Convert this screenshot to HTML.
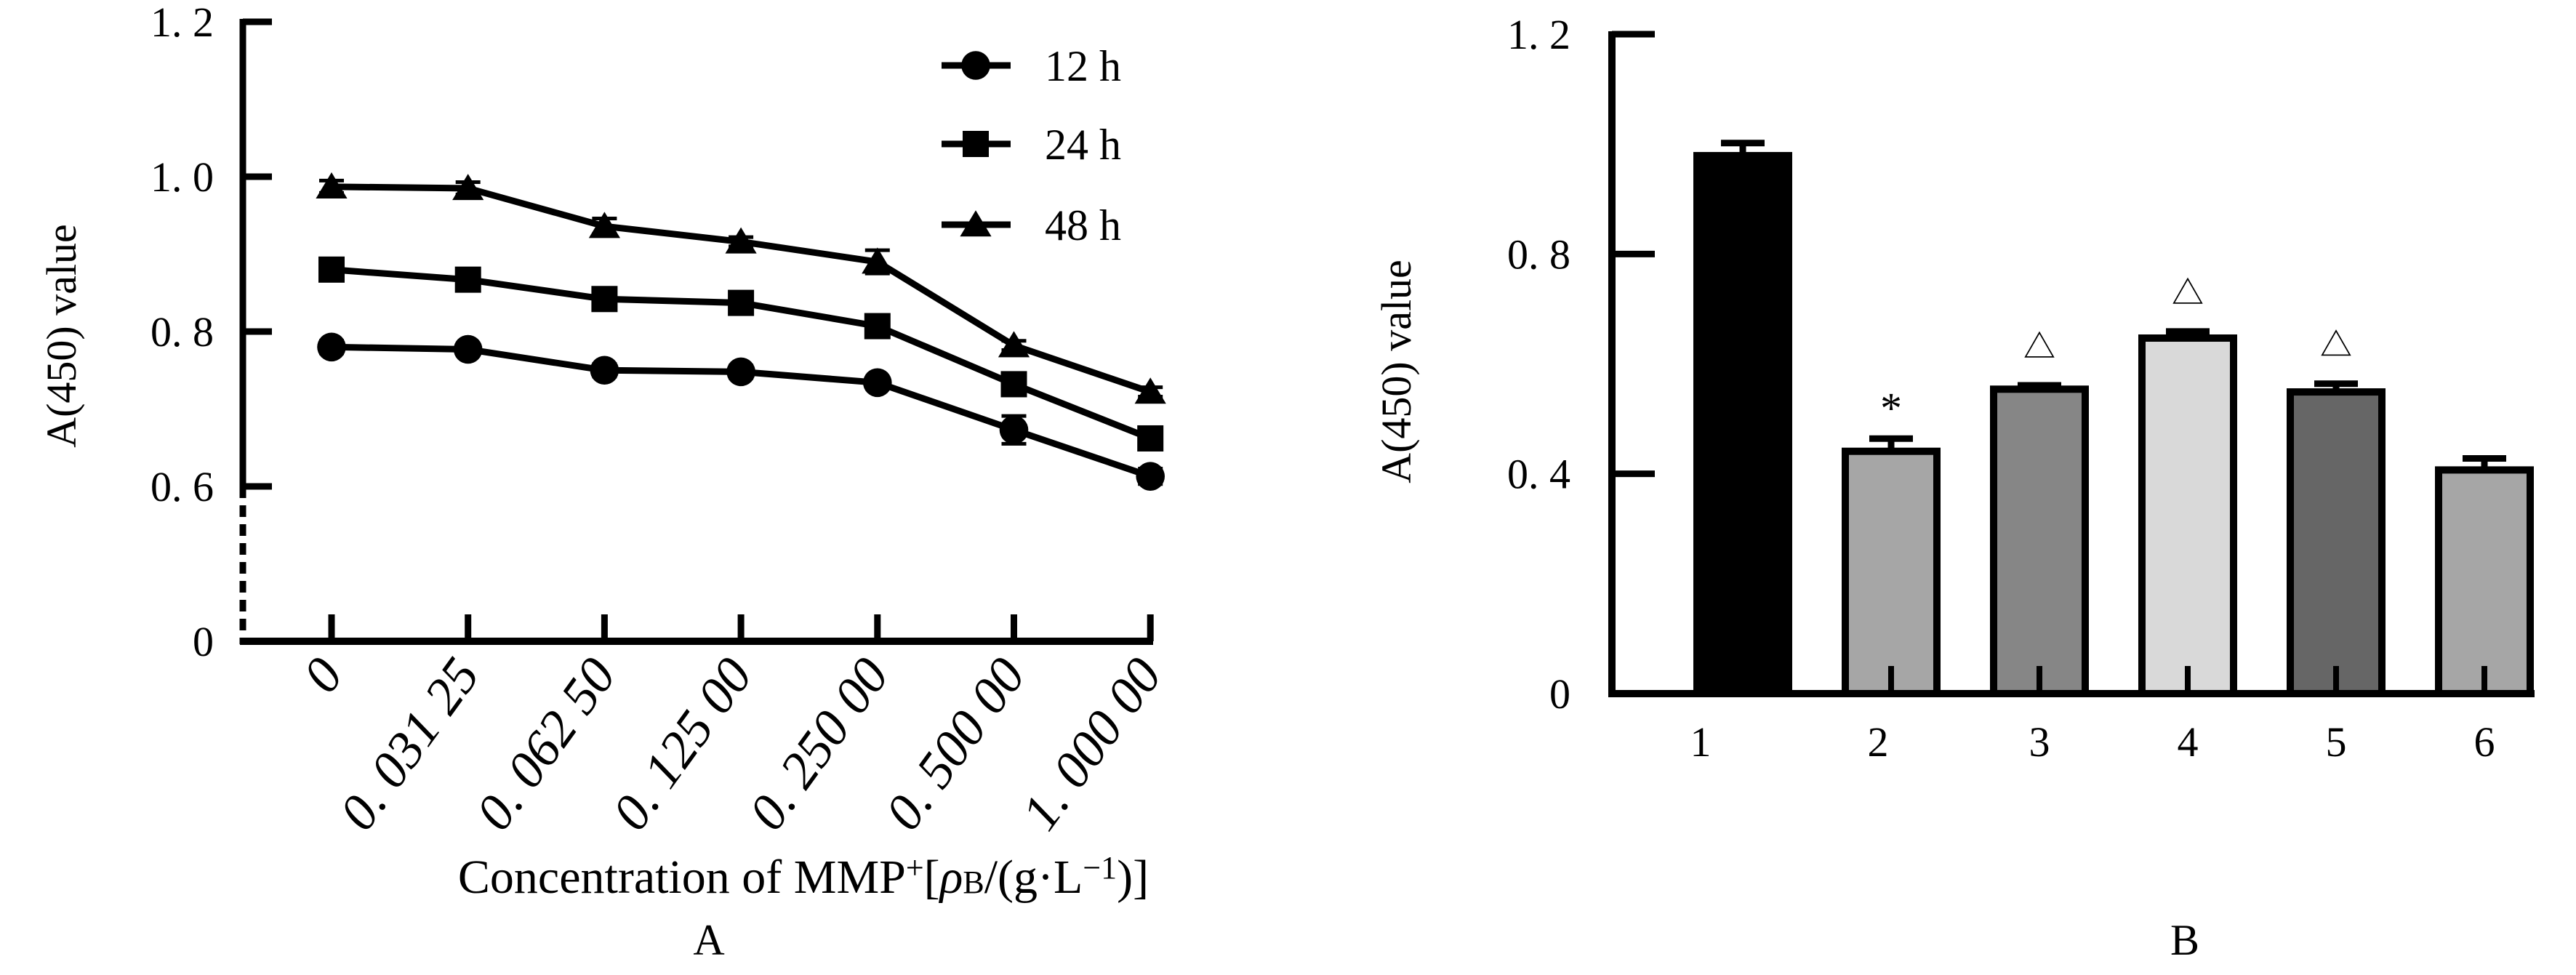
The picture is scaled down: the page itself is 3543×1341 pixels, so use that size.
<!DOCTYPE html>
<html><head><meta charset="utf-8"><style>
html,body{margin:0;padding:0;background:#fff;}
svg{display:block;font-family:"Liberation Serif","Noto Serif CJK SC",serif;}
</style></head><body>
<svg id="fig" width="3543" height="1341" viewBox="0 0 3543 1341" xmlns="http://www.w3.org/2000/svg">
<g id="chartA"></g>
<g id="chartB"></g>
</svg>
<script>
// ---- Chart A data ----
const concLabels = ["0","0. 031 25","0. 062 50","0. 125 00","0. 250 00","0. 500 00","1. 000 00"];
const seriesNames = ["12 h","24 h","48 h"];
const vals12 = [0.780,0.777,0.750,0.748,0.734,0.673,0.613];
const vals24 = [0.880,0.867,0.842,0.837,0.807,0.732,0.662];
const vals48 = [0.987,0.985,0.936,0.916,0.890,0.782,0.722];
const err12 = [0.008,0.006,0.008,0.008,0.006,0.018,0.010];
const err24 = [0.008,0.008,0.008,0.008,0.008,0.010,0.010];
const err48 = [0.008,0.008,0.010,0.006,0.015,0.006,0.006];
const yTicksA = [0,0.6,0.8,1.0,1.2];
const yTickLabelsA = ["0","0. 6","0. 8","1. 0","1. 2"];
// ---- Chart B data ----
const groups = ["1","2","3","4","5","6"];
const barVals = [0.979,0.441,0.554,0.647,0.549,0.407];
const barErr = [0.023,0.023,0.007,0.012,0.015,0.021];
const barMarks = ["","*","△","△","△",""];
const yTicksB = [0,0.4,0.8,1.2];
const yTickLabelsB = ["0","0. 4","0. 8","1. 2"];

const NS="http://www.w3.org/2000/svg";
function mk(parent,tag,attrs,text){const e=document.createElementNS(NS,tag);for(const k in attrs)e.setAttribute(k,attrs[k]);if(text!==undefined)e.textContent=text;parent.appendChild(e);return e;}

// ===== Chart A =====
const A=document.getElementById('chartA');
function xA(i){return 456+i*187.7;}
function yA(v){return v<=0?882:(v<0.6?882-(v/0.6)*213:669-(v-0.6)/0.6*639);}
let e;
e=mk(A,'line',{x1:334,y1:yA(0.6),x2:334,y2:26,stroke:'#000','stroke-width':9});

e=mk(A,'line',{x1:334,y1:yA(0.6),x2:334,y2:886,stroke:'#000','stroke-width':9,'stroke-dasharray':'16 10'});

e=mk(A,'line',{x1:330,y1:882,x2:1586,y2:882,stroke:'#000','stroke-width':10});

yTicksA.forEach((t,i)=>{
  const y=yA(t);
  if(t>0){const tk=mk(A,'line',{x1:334,y1:y,x2:374,y2:y,stroke:'#000','stroke-width':9});
  }
  const tl=mk(A,'text',{x:294,y:y+20,'font-size':58,'text-anchor':'end'},yTickLabelsA[i]);
  
});
concLabels.forEach((c,i)=>{
  const x=xA(i);
  const tk=mk(A,'line',{x1:x,y1:882,x2:x,y2:845,stroke:'#000','stroke-width':9});
  
  const ax=x+18, ay=928;
  const tl=mk(A,'text',{x:ax,y:ay,'font-size':72,'font-style':'italic','text-anchor':'end',transform:`rotate(-54 ${ax} ${ay})`},c);
  
});
const allVals=[vals12,vals24,vals48], allErr=[err12,err24,err48], shapes=['circle','square','triangle'];
function marker(g,shape,x,y,s){
  if(shape==='circle')return mk(g,'circle',{cx:x,cy:y,r:s*0.55,fill:'#000'});
  if(shape==='square')return mk(g,'rect',{x:x-s*0.5,y:y-s*0.5,width:s,height:s,fill:'#000'});
  return mk(g,'polygon',{points:`${x},${y-s*0.55} ${x-s*0.6},${y+s*0.45} ${x+s*0.6},${y+s*0.45}`,fill:'#000'});
}
allVals.forEach((vals,si)=>{
  const g=mk(A,'g',{});
  
  
  const pts=vals.map((v,i)=>xA(i)+','+yA(v)).join(' ');
  mk(g,'polyline',{points:pts,fill:'none',stroke:'#000','stroke-width':9});
  vals.forEach((v,i)=>{
    const x=xA(i),yt=yA(v+allErr[si][i]),yb=yA(v-allErr[si][i]);
    const eb=mk(g,'path',{d:`M${x},${yb}V${yt}M${x-17},${yt}H${x+17}M${x-17},${yb}H${x+17}`,stroke:'#000','stroke-width':5,fill:'none'});
    
    const m=marker(g,shapes[si],x,yA(v),36);
    
  });
});
const legY=[90,198,309];
seriesNames.forEach((n,i)=>{
  const g=mk(A,'g',{});
  
  mk(g,'line',{x1:1295,y1:legY[i],x2:1390,y2:legY[i],stroke:'#000','stroke-width':9});
  marker(g,shapes[i],1342,legY[i],36);
  mk(g,'text',{x:1437,y:legY[i]+21,'font-size':60},n);
});
e=mk(A,'text',{x:0,y:0,'font-size':58,'text-anchor':'middle',transform:'translate(104 462) rotate(-90)'},'A(450) value');

e=mk(A,'text',{x:1105,y:1228,'font-size':66,'text-anchor':'middle'});

e.innerHTML='Concentration of MMP<tspan font-size="44" dy="-20">+</tspan><tspan dy="20">[</tspan><tspan font-style="italic">ρ</tspan><tspan font-size="44">B</tspan>/(g·L<tspan font-size="44" dy="-20">−1</tspan><tspan dy="20">)]</tspan>';
e=mk(A,'text',{x:975,y:1313,'font-size':60,'text-anchor':'middle'},'A');


// ===== Chart B =====
const B=document.getElementById('chartB');
const fills=['#000000','#a6a6a6','#868686','#d9d9d9','#666666','#a6a6a6'];
const labelShift=[-58,-18,0,0,0,0];
function xB(i){return 2397+i*204;}
function yB(v){return 954-v*755.8;}
e=mk(B,'line',{x1:2217,y1:43,x2:2217,y2:958,stroke:'#000','stroke-width':10});

e=mk(B,'line',{x1:2212,y1:954,x2:3486,y2:954,stroke:'#000','stroke-width':10});

yTicksB.forEach((t,i)=>{
  const y=yB(t);
  if(t>0){const tk=mk(B,'line',{x1:2217,y1:y,x2:2276,y2:y,stroke:'#000','stroke-width':9});
  }
  const tl=mk(B,'text',{x:2160,y:y+20,'font-size':58,'text-anchor':'end'},yTickLabelsB[i]);
  
});
groups.forEach((gname,i)=>{
  const x=xB(i),w=126,v=barVals[i];
  const g=mk(B,'g',{});
  
  const eb=mk(g,'path',{d:`M${x},${yB(v)}V${yB(v+barErr[i])}M${x-30},${yB(v+barErr[i])}H${x+30}`,stroke:'#000','stroke-width':9,fill:'none'});
  
  const r=mk(g,'rect',{x:x-w/2,y:yB(v),width:w,height:yB(0)-yB(v),fill:fills[i],stroke:'#000','stroke-width':10});
  
  mk(g,'line',{x1:x,y1:954,x2:x,y2:916,stroke:'#000','stroke-width':8});
  const tl=mk(g,'text',{x:x+labelShift[i],y:1040,'font-size':58,'text-anchor':'middle'},gname);
  
  if(barMarks[i]){
    const star=barMarks[i]==='*';
    const m=mk(g,'text',{x:x,y:yB(v+barErr[i])-(star?22:38),'font-size':star?60:44,'text-anchor':'middle'},barMarks[i]);
    
  }
});
e=mk(B,'text',{x:0,y:0,'font-size':58,'text-anchor':'middle',transform:'translate(1940 511) rotate(-90)'},'A(450) value');

e=mk(B,'text',{x:3005,y:1313,'font-size':60,'text-anchor':'middle'},'B');

</script>
</body></html>
